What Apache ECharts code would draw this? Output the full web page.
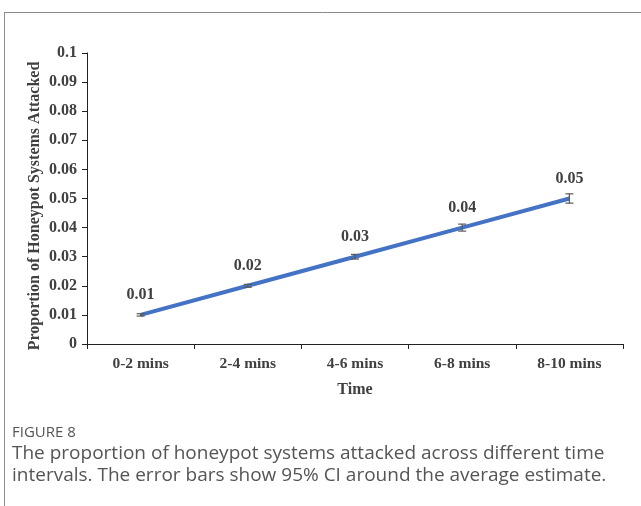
<!DOCTYPE html>
<html>
<head>
<meta charset="utf-8">
<script src="https://cdn.jsdelivr.net/npm/echarts@6/dist/echarts.min.js"></script>
<style>
  html, body { margin: 0; padding: 0; background: #fff; }
  #chart { width: 641px; height: 506px; }
</style>
</head>
<body>
<div id="chart"></div>
<script>
// Time intervals and the proportion of honeypots attacked in each
const categories = ['0-2 mins', '2-4 mins', '4-6 mins', '6-8 mins', '8-10 mins'];
const proportions = [0.01, 0.02, 0.03, 0.04, 0.05];
// Half-width of the 95% confidence interval for each interval
const ciHalf = [0.0004, 0.0005, 0.0008, 0.0012, 0.0016];
const yTicks = [0, 0.01, 0.02, 0.03, 0.04, 0.05, 0.06, 0.07, 0.08, 0.09, 0.1];

const serif = '"Liberation Serif", "Times New Roman", serif';
const sans = '"Open Sans", "Noto Sans", sans-serif';

const errorData = proportions.map((v, i) => [i, v - ciHalf[i], v + ciHalf[i]]);

const chart = echarts.init(document.getElementById('chart'), null, { renderer: 'canvas' });

chart.setOption({
  animation: false,
  backgroundColor: '#fff',
  grid: { left: 87, right: 18, top: 53, bottom: 162, containLabel: false },
  xAxis: {
    type: 'category',
    data: categories,
    boundaryGap: true,
    name: 'Time',
    nameLocation: 'middle',
    nameGap: 38,
    nameTextStyle: { fontFamily: serif, fontWeight: 'bold', fontSize: 16, color: '#404040' },
    axisLine: { lineStyle: { color: '#222', width: 1 } },
    axisTick: { show: true, length: 5, lineStyle: { color: '#222' } },
    axisLabel: { fontFamily: serif, fontWeight: 'bold', fontSize: 15.5, color: '#404040', margin: 12 }
  },
  yAxis: {
    type: 'value',
    min: 0,
    max: 0.1,
    interval: 0.01,
    splitLine: { show: false },
    axisLine: { show: true, lineStyle: { color: '#222', width: 1 } },
    axisTick: { show: true, length: 5, lineStyle: { color: '#222' } },
    axisLabel: {
      fontFamily: serif, fontWeight: 'bold', fontSize: 16, color: '#404040', margin: 10,
      formatter: v => {
        const t = yTicks.find(x => Math.abs(x - v) < 1e-9);
        return String(t !== undefined ? t : v);
      }
    }
  },
  series: [
    {
      type: 'line',
      data: proportions,
      symbol: 'circle',
      symbolSize: 0,
      showSymbol: true,
      itemStyle: { color: '#4472C4', opacity: 0 },
      lineStyle: { color: '#4472C4', width: 4 },
      label: {
        show: true,
        position: 'top',
        distance: 12,
        fontFamily: serif,
        fontWeight: 'bold',
        fontSize: 16,
        color: '#404040',
        opacity: 1,
        formatter: p => String(p.value)
      },
      z: 2
    },
    {
      type: 'custom',
      data: errorData,
      z: 3,
      renderItem: (params, api) => {
        const x = api.value(0);
        const lo = api.coord([x, api.value(1)]);
        const hi = api.coord([x, api.value(2)]);
        const cap = 4;
        const style = { stroke: '#595959', lineWidth: 1.2 };
        return {
          type: 'group',
          children: [
            { type: 'line', shape: { x1: lo[0], y1: lo[1], x2: hi[0], y2: hi[1] }, style },
            { type: 'line', shape: { x1: lo[0] - cap, y1: lo[1], x2: lo[0] + cap, y2: lo[1] }, style },
            { type: 'line', shape: { x1: hi[0] - cap, y1: hi[1], x2: hi[0] + cap, y2: hi[1] }, style }
          ]
        };
      }
    }
  ],
  graphic: [
    // figure frame: left and top rules
    { type: 'line', shape: { x1: 4.5, y1: 12, x2: 4.5, y2: 506 }, style: { stroke: '#8a8a8a', lineWidth: 1 } },
    { type: 'line', shape: { x1: 4, y1: 12.5, x2: 641, y2: 12.5 }, style: { stroke: '#8a8a8a', lineWidth: 1 } },
    // value axis title
    {
      type: 'text', x: 35, y: 206, rotation: Math.PI / 2,
      style: {
        text: 'Proportion of Honeypot Systems Attacked',
        fontFamily: serif, fontWeight: 'bold', fontSize: 16, fill: '#404040',
        align: 'center', verticalAlign: 'middle'
      }
    },
    {
      type: 'text', left: 12, top: 425,
      style: { text: 'FIGURE 8', fontFamily: sans, fontSize: 15, fill: '#555' }
    },
    {
      type: 'text', left: 12, top: 443,
      style: {
        text: 'The proportion of honeypot systems attacked across different time\nintervals. The error bars show 95% CI around the average estimate.',
        fontFamily: sans, fontSize: 19, lineHeight: 21.5, fill: '#555'
      }
    }
  ]
});
</script>
</body>
</html>
